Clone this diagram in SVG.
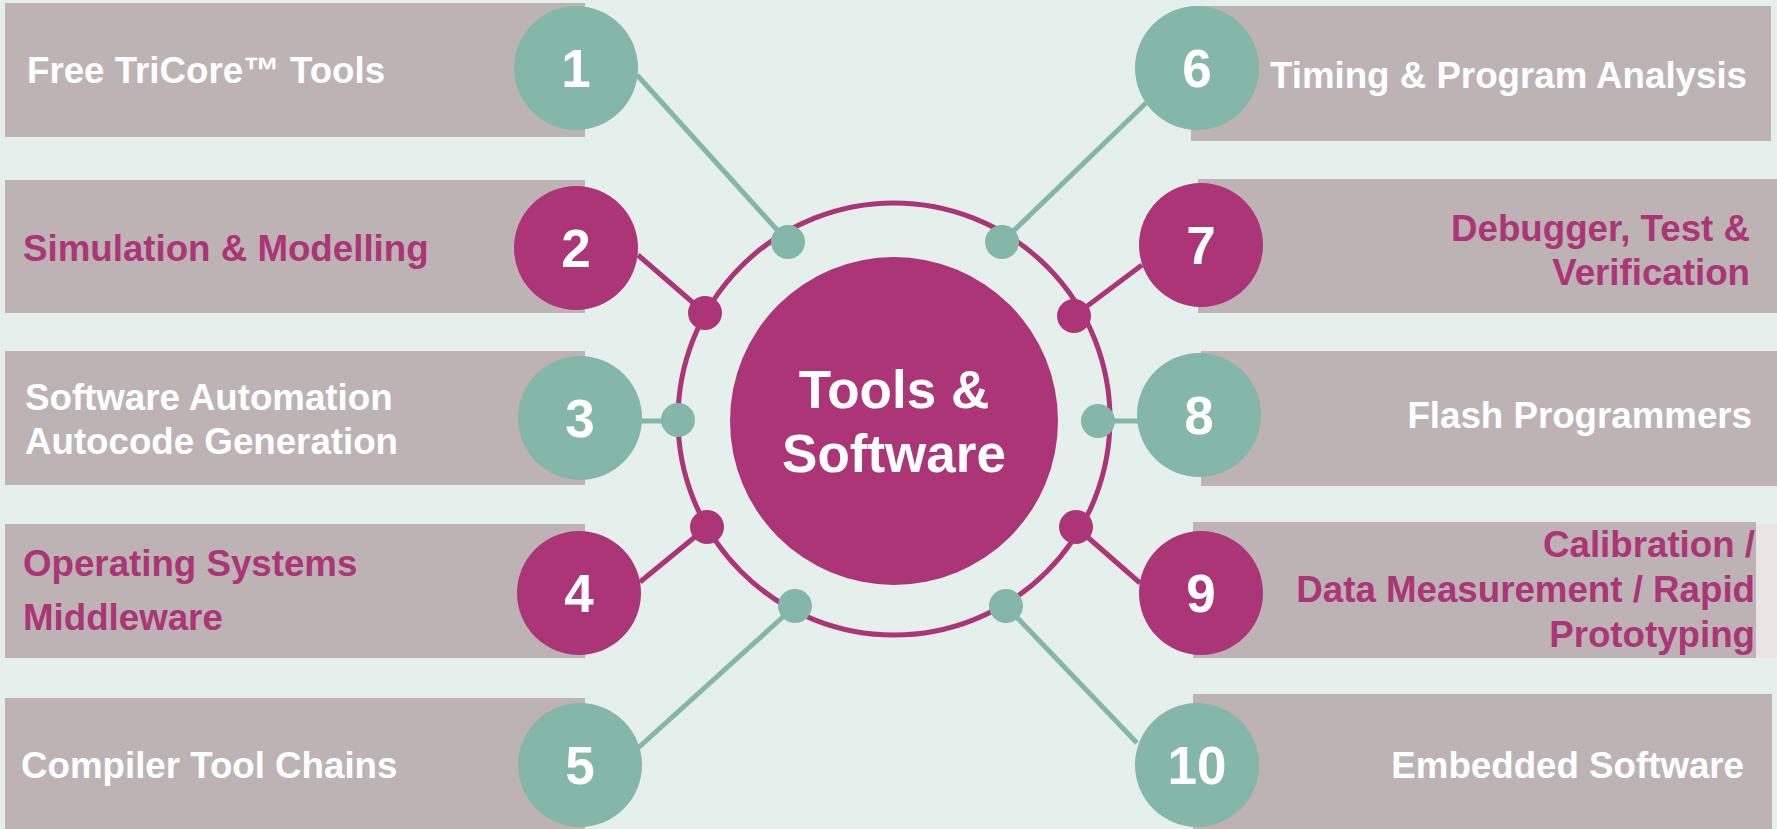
<svg xmlns="http://www.w3.org/2000/svg" width="1777" height="829" viewBox="0 0 1777 829">
  <style>
    .box { fill: #BDB3B4; }
    .teal { fill: #84B7A7; }
    .mag { fill: #AB3577; }
    .lt { stroke: #84B7A7; stroke-width: 5; fill: none; }
    .lm { stroke: #AB3577; stroke-width: 5; fill: none; }
    .lbl { font-family: "Liberation Sans", Arial, sans-serif; font-weight: bold; font-size: 36.7px; }
    .w { fill: #FFFFFF; }
    .m { fill: #AB3577; }
    .num { font-family: "Liberation Sans", Arial, sans-serif; font-weight: bold; font-size: 53px; fill: #FFFFFF; text-anchor: middle; }
    .end { text-anchor: end; }
  </style>
  <rect x="0" y="0" width="1777" height="829" fill="#E5F0EC"/>

  <g id="connectors">
    <line class="lt" x1="637" y1="75" x2="788" y2="242"/>
    <line class="lm" x1="638" y1="255" x2="705" y2="313"/>
    <line class="lt" x1="641" y1="421" x2="678" y2="421"/>
    <line class="lm" x1="640" y1="582" x2="707" y2="527"/>
    <line class="lt" x1="638" y1="748" x2="795" y2="606"/>
    <line class="lt" x1="1146" y1="103" x2="1002" y2="242"/>
    <line class="lm" x1="1142" y1="265" x2="1074" y2="316"/>
    <line class="lt" x1="1098" y1="421" x2="1138" y2="421"/>
    <line class="lm" x1="1140" y1="583" x2="1076" y2="527"/>
    <line class="lt" x1="1006" y1="606" x2="1137" y2="743"/>
  </g>

  <g id="hub">
    <circle cx="894" cy="419" r="216" class="lm"/>
    <circle cx="894" cy="421" r="164" class="mag"/>
    <text x="894" y="408" class="num">Tools &amp;</text>
    <text x="894" y="472" class="num">Software</text>
    <circle cx="788" cy="242" r="17" class="teal"/>
    <circle cx="705" cy="313" r="17" class="mag"/>
    <circle cx="678" cy="420" r="17" class="teal"/>
    <circle cx="707" cy="527" r="17" class="mag"/>
    <circle cx="795" cy="606" r="17" class="teal"/>
    <circle cx="1002" cy="242" r="17" class="teal"/>
    <circle cx="1074" cy="316" r="17" class="mag"/>
    <circle cx="1098" cy="421" r="17" class="teal"/>
    <circle cx="1076" cy="527" r="17" class="mag"/>
    <circle cx="1006" cy="606" r="17" class="teal"/>
  </g>

  <g id="node1">
    <rect x="5" y="3" width="580" height="134" class="box"/>
    <circle cx="576" cy="68" r="62" class="teal"/>
    <text x="576" y="87" class="num">1</text>
    <text x="27" y="83" class="lbl w">Free TriCore™ Tools</text>
  </g>
  <g id="node2">
    <rect x="5" y="180" width="580" height="133" class="box"/>
    <circle cx="576" cy="248" r="62" class="mag"/>
    <text x="576" y="267" class="num">2</text>
    <text x="23" y="261" class="lbl m">Simulation &amp; Modelling</text>
  </g>
  <g id="node3">
    <rect x="5" y="351" width="580" height="134" class="box"/>
    <circle cx="580" cy="418" r="62" class="teal"/>
    <text x="580" y="437" class="num">3</text>
    <text x="25" y="410" class="lbl w">Software Automation</text>
    <text x="25" y="454" class="lbl w">Autocode Generation</text>
  </g>
  <g id="node4">
    <rect x="5" y="524" width="580" height="134" class="box"/>
    <circle cx="579" cy="593" r="62" class="mag"/>
    <text x="579" y="612" class="num">4</text>
    <text x="23" y="576" class="lbl m">Operating Systems</text>
    <text x="23" y="630" class="lbl m">Middleware</text>
  </g>
  <g id="node5">
    <rect x="5" y="698" width="580" height="131" class="box"/>
    <circle cx="580" cy="765" r="62" class="teal"/>
    <text x="580" y="784" class="num">5</text>
    <text x="21" y="778" class="lbl w">Compiler Tool Chains</text>
  </g>
  <g id="node6">
    <rect x="1191" y="6" width="580" height="135" class="box"/>
    <circle cx="1197" cy="68" r="62" class="teal"/>
    <text x="1197" y="87" class="num">6</text>
    <text x="1747" y="88" class="lbl w end">Timing &amp; Program Analysis</text>
  </g>
  <g id="node7">
    <rect x="1198" y="179" width="579" height="134" class="box"/>
    <circle cx="1201" cy="245" r="62" class="mag"/>
    <text x="1201" y="264" class="num">7</text>
    <text x="1750" y="241" class="lbl m end">Debugger, Test &amp;</text>
    <text x="1750" y="285" class="lbl m end">Verification</text>
  </g>
  <g id="node8">
    <rect x="1201" y="351" width="576" height="135" class="box"/>
    <circle cx="1199" cy="415" r="62" class="teal"/>
    <text x="1199" y="434" class="num">8</text>
    <text x="1752" y="428" class="lbl w end">Flash Programmers</text>
  </g>
  <g id="node9">
    <rect x="1756" y="524" width="21" height="134" fill="#E8E6E4"/>
    <rect x="1193" y="522" width="563" height="136" class="box"/>
    <circle cx="1201" cy="593" r="62" class="mag"/>
    <text x="1201" y="612" class="num">9</text>
    <text x="1755" y="557" class="lbl m end">Calibration /</text>
    <text x="1755" y="602" class="lbl m end">Data Measurement / Rapid</text>
    <text x="1755" y="647" class="lbl m end">Prototyping</text>
  </g>
  <g id="node10">
    <rect x="1193" y="694" width="579" height="135" class="box"/>
    <circle cx="1197" cy="765" r="62" class="teal"/>
    <text x="1197" y="784" class="num">10</text>
    <text x="1744" y="778" class="lbl w end">Embedded Software</text>
  </g>
</svg>
